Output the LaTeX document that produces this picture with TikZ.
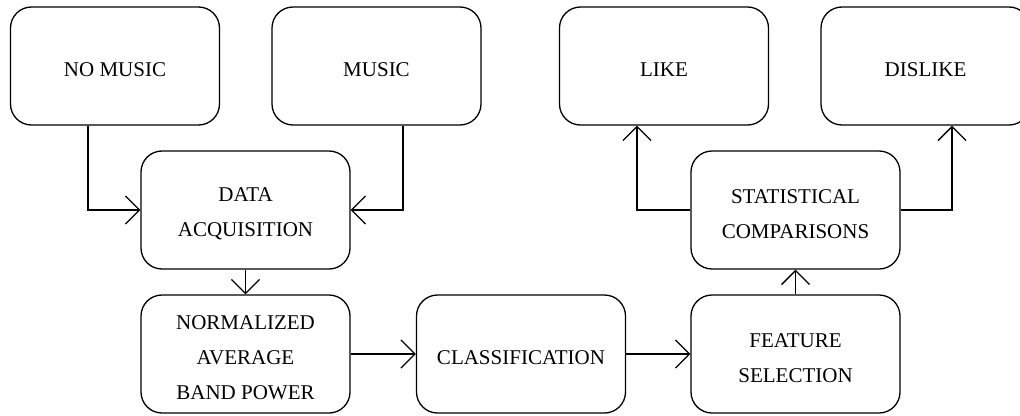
\documentclass[tikz,border=0pt]{standalone}
\usepackage{fontspec}
\setmainfont{Liberation Serif}
\usetikzlibrary{arrows.meta}
\begin{document}
\begin{tikzpicture}[x=1pt,y=-1pt,
  box/.style={draw=black, line width=1.3pt, rounded corners=21pt, minimum width=209pt, minimum height=118pt, inner sep=0pt},
  txt/.style={align=center, inner sep=0pt, yshift=-4pt, font=\fontsize{21}{35}\selectfont},
  conn/.style={draw=black, line width=1.3pt, -{Straight Barb[length=14pt, width=28pt, line width=1.3pt]}}]
\useasboundingbox (0,0) rectangle (1020,415);
\clip (0,0) rectangle (1020,415);
\node[box] (nomusic) at (115,66) {};
\node[box] (music) at (376.5,66) {};
\node[box] (data) at (245.5,210) {};
\node[box] (norm) at (245.5,354) {};
\node[box] (class) at (521,354) {};
\node[box] (feat) at (795.5,354) {};
\node[box] (stat) at (795.5,210) {};
\node[box] (like) at (664,66) {};
\node[box] (dislike) at (925.5,66) {};
\node[txt] (tnomusic) at (nomusic.center) {NO MUSIC};
\node[txt] (tmusic) at (music.center) {MUSIC};
\node[txt] (tdata) at (data.center) {DATA\\ACQUISITION};
\node[txt] (tnorm) at (norm.center) {NORMALIZED\\AVERAGE\\BAND POWER};
\node[txt] (tclass) at (class.center) {CLASSIFICATION};
\node[txt] (tfeat) at (feat.center) {FEATURE\\SELECTION};
\node[txt] (tstat) at (stat.center) {STATISTICAL\\COMPARISONS};
\node[txt] (tlike) at (like.center) {LIKE};
\node[txt] (tdislike) at (dislike.center) {DISLIKE};
\draw[conn] (nomusic.south -| 88,0) |- (data.west);
\draw[conn] (music.south -| 403,0) |- (data.east);
\draw[conn] (data.south) -- (norm.north);
\draw[conn] (norm.east) -- (class.west);
\draw[conn] (class.east) -- (feat.west);
\draw[conn] (feat.north) -- (stat.south);
\draw[conn] (stat.west) -| (like.south -| 637,0);
\draw[conn] (stat.east) -| (dislike.south -| 952,0);
\end{tikzpicture}
\end{document}
